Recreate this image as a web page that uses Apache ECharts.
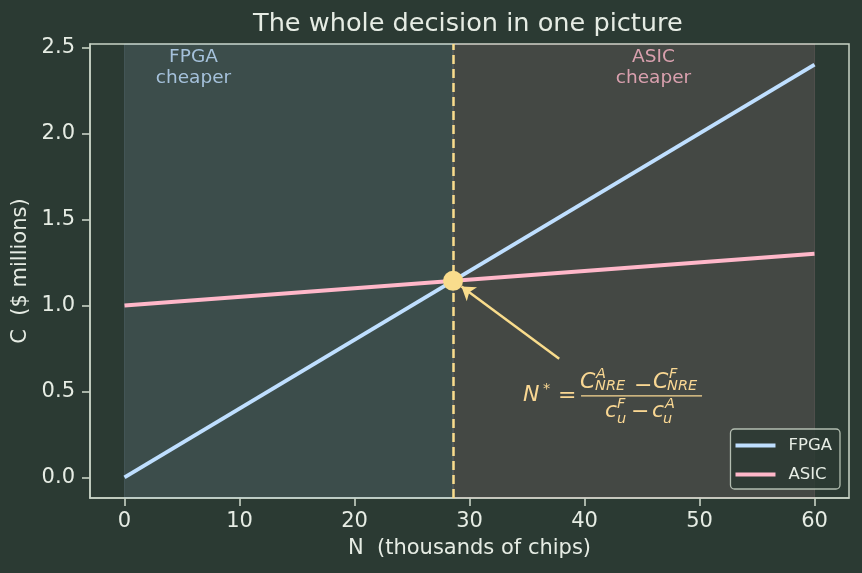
<!DOCTYPE html>
<html>
<head>
<meta charset="utf-8">
<script src="https://cdn.jsdelivr.net/npm/echarts@6/dist/echarts.min.js"></script>
<style>
  html, body { margin: 0; padding: 0; background: #2b3a33; }
  #chart { width: 862px; height: 573px; }
</style>
</head>
<body>
<div id="chart"></div>
<script>
// volumes (thousands of chips) and total cost ($ millions)
const nThousands = [0, 60]
const fpgaCost = [0, 2.4]
const asicCost = [1.0, 1.3]

const xTicks = [0, 10, 20, 30, 40, 50, 60]
const yTicks = [0, 0.5, 1.0, 1.5, 2.0, 2.5]

const noteN = [6, 46]
const noteC = 2.385
const noteText = ['FPGA\ncheaper', 'ASIC\ncheaper']

const arrowFrom = [37.8, 0.69]
const arrowTo = [29.3, 1.11]
const formulaAt = [39.7, 0.474]

// break-even point from the two lines
const slopeF = (fpgaCost[1] - fpgaCost[0]) / (nThousands[1] - nThousands[0])
const slopeA = (asicCost[1] - asicCost[0]) / (nThousands[1] - nThousands[0])
const nStar = (asicCost[0] - fpgaCost[0]) / (slopeF - slopeA)
const cStar = fpgaCost[0] + slopeF * nStar

const BG = '#2b3a33'
const FG = '#e6ece4'
const SPINE = '#c9d3c6'
const BLUE = '#bfdfff'
const PINK = '#ffb7c9'
const YEL = '#f9dc8c'
const FONT = 'DejaVu Sans'

const chart = echarts.init(document.getElementById('chart'))

const option = {
  backgroundColor: BG,
  animation: false,
  textStyle: { fontFamily: FONT },
  title: {
    text: 'The whole decision in one picture',
    left: 253,
    top: 11,
    padding: 0,
    textStyle: { color: FG, fontSize: 25.6, fontWeight: 'normal', fontFamily: FONT },
  },
  grid: {
    left: 90,
    right: 13,
    top: 44,
    bottom: 75,
    show: true,
    borderColor: SPINE,
    borderWidth: 1.5,
    backgroundColor: 'transparent',
  },
  legend: {
    data: ['FPGA', 'ASIC'],
    orient: 'vertical',
    right: 22,
    bottom: 84,
    icon: 'rect',
    itemWidth: 40,
    itemHeight: 4,
    itemGap: 12,
    padding: [8, 8, 6, 5],
    backgroundColor: 'rgba(43,58,51,0.85)',
    borderColor: 'rgba(201,211,198,0.85)',
    borderWidth: 1.3,
    borderRadius: 4,
    textStyle: { color: FG, fontSize: 16.5, fontFamily: FONT, padding: [0, 0, 0, 8] },
  },
  xAxis: {
    type: 'value',
    min: -3,
    max: 63,
    name: 'N  (thousands of chips)',
    nameLocation: 'middle',
    nameGap: 40,
    nameTextStyle: { color: FG, fontSize: 21, fontFamily: FONT },
    axisLine: { show: true, onZero: false, lineStyle: { color: SPINE, width: 1.5 } },
    splitLine: { show: false },
    axisTick: { show: true, length: 8, customValues: xTicks, lineStyle: { color: SPINE, width: 1.6 } },
    axisLabel: { color: FG, fontSize: 21, margin: 13, customValues: xTicks },
  },
  yAxis: {
    type: 'value',
    min: -0.12,
    max: 2.52,
    name: 'C  ($ millions)',
    nameLocation: 'middle',
    nameGap: 52,
    nameTextStyle: { color: FG, fontSize: 21, fontFamily: FONT },
    axisLine: { show: true, onZero: false, lineStyle: { color: SPINE, width: 1.5 } },
    splitLine: { show: false },
    axisTick: { show: true, length: 8, customValues: yTicks, lineStyle: { color: SPINE, width: 1.6 } },
    axisLabel: {
      color: FG,
      fontSize: 21,
      margin: 15,
      customValues: yTicks,
      formatter: (v) => v.toFixed(1),
    },
  },
  series: [
    {
      name: 'FPGA',
      type: 'line',
      data: nThousands.map((n, i) => [n, fpgaCost[i]]),
      symbol: 'none',
      z: 3,
      lineStyle: { color: BLUE, width: 4 },
      itemStyle: { color: BLUE },
      markArea: {
        silent: true,
        data: [
          [
            { xAxis: nThousands[0], itemStyle: { color: 'rgba(191,223,255,0.12)', borderColor: 'rgba(191,223,255,0.12)', borderWidth: 1 } },
            { xAxis: nStar },
          ],
          [
            { xAxis: nStar, itemStyle: { color: 'rgba(255,183,201,0.12)', borderColor: 'rgba(255,183,201,0.12)', borderWidth: 1 } },
            { xAxis: nThousands[1] },
          ],
        ],
      },
      markLine: {
        silent: true,
        symbol: 'none',
        label: { show: false },
        lineStyle: { color: YEL, width: 2.5, type: [9, 5] },
        data: [{ xAxis: nStar }],
      },
    },
    {
      name: 'ASIC',
      type: 'line',
      data: nThousands.map((n, i) => [n, asicCost[i]]),
      symbol: 'none',
      z: 3,
      lineStyle: { color: PINK, width: 4 },
      itemStyle: { color: PINK },
    },
    {
      name: 'breakeven',
      type: 'scatter',
      data: [[nStar, cStar]],
      symbolSize: 20,
      z: 5,
      itemStyle: { color: YEL, opacity: 1 },
      markLine: {
        silent: true,
        label: { show: false },
        symbol: ['none', 'arrow'],
        symbolSize: 13,
        lineStyle: { color: YEL, width: 2.5, type: 'solid' },
        data: [[{ coord: arrowFrom }, { coord: arrowTo }]],
      },
    },
    {
      name: 'notes',
      type: 'scatter',
      symbolSize: 0,
      silent: true,
      data: noteN.map((n, i) => ({
        value: [n, noteC],
        label: {
          show: true,
          position: 'inside',
          formatter: noteText[i],
          color: i === 0 ? BLUE : PINK,
          fontSize: 18.5,
          lineHeight: 21,
          fontFamily: FONT,
        },
      })),
    },
  ],
}

chart.setOption(option)

// N* formula, laid out around the fraction bar
const p = chart.convertToPixel({ gridIndex: 0 }, formulaAt)
const big = 22
const small = 14.5
const t = (text, x, y, size, italic) => ({
  type: 'text',
  x: x,
  y: y,
  style: {
    text: text,
    fill: YEL,
    font: (italic ? 'italic ' : '') + size + 'px "DejaVu Sans"',
    verticalAlign: 'middle',
    align: 'left',
  },
})
chart.setOption({
  graphic: [
    {
      type: 'group',
      x: p[0],
      y: p[1],
      silent: true,
      children: [
        t('N', -58, -1, big, true),
        t('*', -38, -7, small, false),
        t('=', -23, 0, big, false),
        { type: 'line', shape: { x1: 0, y1: 0, x2: 121, y2: 0 }, style: { stroke: YEL, lineWidth: 1.4 } },
        t('C', -1, -14, big, true),
        t('A', 15, -22, small, true),
        t('NRE', 14, -10, small, true),
        t('\u2212', 53, -10, big, false),
        t('C', 72, -14, big, true),
        t('F', 88, -22, small, true),
        t('NRE', 86, -10, small, true),
        t('c', 24, 15, big, true),
        t('F', 36, 8, small, true),
        t('u', 36, 23, small, true),
        t('\u2212', 50, 16, big, false),
        t('c', 71, 15, big, true),
        t('A', 84, 8, small, true),
        t('u', 82, 23, small, true),
      ],
    },
  ],
})
</script>
</body>
</html>
